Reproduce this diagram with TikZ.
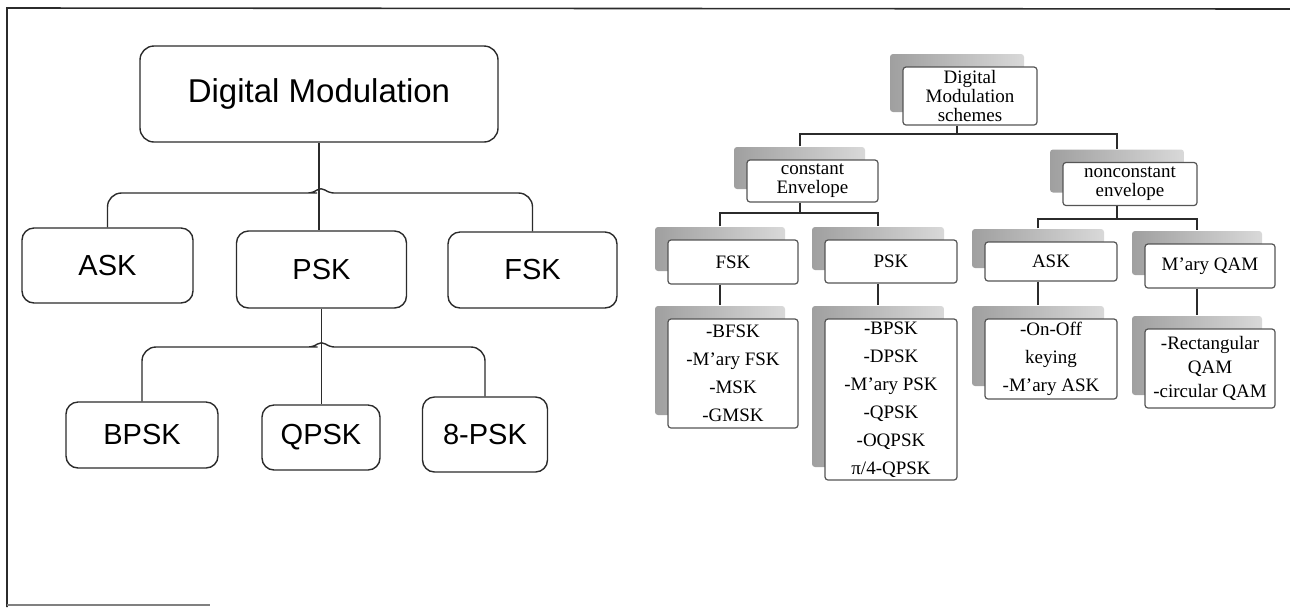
\documentclass[tikz,border=0pt]{standalone}
\usepackage{fontspec}
\setmainfont{Liberation Serif}
\setsansfont{Liberation Sans}
\usetikzlibrary{positioning,shadows}
\definecolor{ink}{HTML}{2B2B2B}

\begin{document}
\begin{tikzpicture}[x=0.5pt,y=-0.5pt,
			top/.style={draw=ink,line width=0.7pt,rounded corners=7pt,font=\sffamily\fontsize{16.5}{18}\selectfont,minimum width=179pt,minimum height=48pt,inner sep=0pt},
			sub/.style={draw=ink,line width=0.7pt,rounded corners=6pt,font=\sffamily\fontsize{14.5}{16}\selectfont,inner sep=0pt},
			sz/.style 2 args={minimum width=#1,minimum height=#2},
			tie/.style={ink,line width=0.7pt},
			card/.style={draw=ink!80,line width=0.6pt,fill=white,rounded corners=1.5pt,inner sep=0pt,align=center,font=\fontsize{9.5}{9.5}\selectfont,
				general shadow={shadow xshift=-6.5pt,shadow yshift=6.5pt,left color=gray!75,right color=gray!30}},
			lst/.style={card,font=\fontsize{9.5}{14}\selectfont},
			lnk/.style={ink,line width=1pt}
			]
			\useasboundingbox (0,0) rectangle (1290,607);
			\draw[ink,line width=0.8pt] (7,607)--(7,8)--(1290,9);
			\draw[gray,line width=0.8pt] (7,605)--(210,605);
			\node[top] (dm) at (319,94) {Digital Modulation};
			\node[sub,sz={85.5pt}{37.5pt}] (ask) at (107.5,265.5) {ASK};
			\node[sub,sz={85pt}{38.5pt}] (psk) at (321.5,269.5) {PSK};
			\node[sub,sz={84.5pt}{38pt}] (fsk) at (532.5,270) {FSK};
			\node[sub,sz={76pt}{33pt}] (bpsk) at (142,435) {BPSK};
			\node[sub,sz={59pt}{32.5pt}] (qpsk) at (321,437.5) {QPSK};
			\node[sub,sz={62.5pt}{37.5pt}] (epsk) at (485,434.5) {8-PSK};
			\coordinate (j1) at (321,193);
			\coordinate (j2) at (321.5,347);
			\draw[tie] (dm.south)--(dm.south |- psk.north);
			\draw[tie] (ask.north) [rounded corners=7pt] |- ([xshift=-9pt]j1) [rounded corners=2.5pt] -- ([xshift=-4pt]j1) -- ([yshift=3pt]j1) -- ([xshift=4pt]j1) -- ([xshift=9pt]j1) [rounded corners=7pt] -| (fsk.north);
			\draw[tie] (psk.south)--(psk.south |- qpsk.north);
			\draw[tie] (bpsk.north) [rounded corners=7pt] |- ([xshift=-9pt]j2) [rounded corners=2.5pt] -- ([xshift=-4pt]j2) -- ([yshift=3pt]j2) -- ([xshift=4pt]j2) -- ([xshift=9pt]j2) [rounded corners=7pt] -| (epsk.north);
			\node[card,sz={67pt}{29pt}] (sch) at (970,96) {Digital\\Modulation\\schemes};
			\node[card,sz={65.5pt}{21pt}] (cenv) at (812.5,181) {constant\\Envelope};
			\node[card,sz={67pt}{21.5pt}] (nenv) at (1130,184) {nonconstant\\envelope};
			\node[card,sz={65pt}{22pt}] (fsk2) at (733,262) {FSK};
			\node[card,sz={66pt}{21.5pt}] (psk2) at (891,261.5) {PSK};
			\node[card,sz={66pt}{19.5pt}] (ask2) at (1051,261.5) {ASK};
			\node[card,sz={65pt}{22pt}] (qam2) at (1210,266) {M'ary QAM};
			\node[lst,sz={65pt}{54.5pt}] (lf) at (733,373.5) {-BFSK\\-M'ary FSK\\-MSK\\-GMSK};
			\node[lst,sz={66pt}{80.5pt}] (lp) at (891,399.5) {-BPSK\\-DPSK\\-M'ary PSK\\-QPSK\\-OQPSK\\π/4-QPSK};
			\node[lst,sz={66pt}{40pt}] (la) at (1051,359) {-On-Off\\keying\\-M'ary ASK};
			\node[lst,sz={65pt}{39.5pt},font=\fontsize{9.5}{12}\selectfont] (lq) at (1210,368.5) {-Rectangular\\QAM\\-circular QAM};
			\coordinate (k1) at (957,134);
			\coordinate (k2) at (799.5,213);
			\coordinate (k3) at (1117,219);
			\draw[lnk] ([xshift=-6.5pt]sch.south)--(k1);
			\draw[lnk] ([xshift=-6.5pt,yshift=6.5pt]cenv.north) |- (k1) -| ([xshift=-6.5pt,yshift=6.5pt]nenv.north);
			\draw[lnk] ([xshift=-6.5pt]cenv.south)--(k2);
			\draw[lnk] ([xshift=-6.5pt,yshift=6.5pt]fsk2.north) |- (k2) -| ([xshift=-6.5pt,yshift=6.5pt]psk2.north);
			\draw[lnk] ([xshift=-6.5pt]nenv.south)--(k3);
			\draw[lnk] ([xshift=-6.5pt,yshift=6.5pt]ask2.north) |- (k3) -| ([xshift=-6.5pt,yshift=6.5pt]qam2.north);
			\draw[lnk] ([xshift=-6.5pt]fsk2.south)--([xshift=-6.5pt,yshift=6.5pt]lf.north);
			\draw[lnk] ([xshift=-6.5pt]psk2.south)--([xshift=-6.5pt,yshift=6.5pt]lp.north);
			\draw[lnk] ([xshift=-6.5pt]ask2.south)--([xshift=-6.5pt,yshift=6.5pt]la.north);
			\draw[lnk] ([xshift=-6.5pt]qam2.south)--([xshift=-6.5pt,yshift=6.5pt]lq.north);
		\end{tikzpicture}
\end{document}
